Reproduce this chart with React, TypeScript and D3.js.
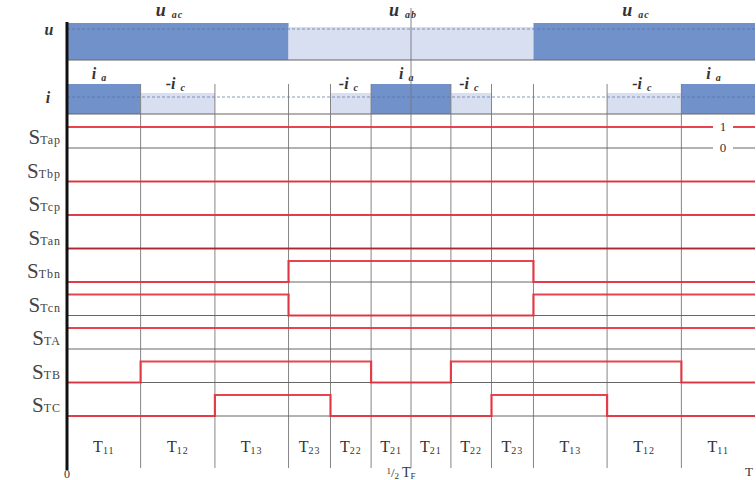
import React from "react";
import * as d3 from "d3";

// interval boundaries, as a fraction of the period T
const boundaries = [0, 0.107, 0.215, 0.322, 0.383, 0.442, 0.5, 0.558, 0.617, 0.678, 0.785, 0.893, 1];
const intervalNames = ["11", "12", "13", "23", "22", "21", "21", "22", "23", "13", "12", "11"];

// voltage panel: [start, end, subscript, shade]
const uSegments: [number, number, string, string][] = [
  [0, 0.322, "ac", "dark"],
  [0.322, 0.678, "ab", "light"],
  [0.678, 1, "ac", "dark"],
];

// current panel
const iSegments: [number, number, string, string][] = [
  [0, 0.107, "a", "dark"],
  [0.107, 0.215, "-c", "light"],
  [0.383, 0.442, "-c", "light"],
  [0.442, 0.558, "a", "dark"],
  [0.558, 0.617, "-c", "light"],
  [0.785, 0.893, "-c", "light"],
  [0.893, 1, "a", "dark"],
];

// switching states per interval
const rowNames = ["Tap", "Tbp", "Tcp", "Tan", "Tbn", "Tcn", "TA", "TB", "TC"];
const states = [
  [1, 1, 1, 1, 1, 1, 1, 1, 1, 1, 1, 1],
  [0, 0, 0, 0, 0, 0, 0, 0, 0, 0, 0, 0],
  [0, 0, 0, 0, 0, 0, 0, 0, 0, 0, 0, 0],
  [0, 0, 0, 0, 0, 0, 0, 0, 0, 0, 0, 0],
  [0, 0, 0, 1, 1, 1, 1, 1, 1, 0, 0, 0],
  [1, 1, 1, 0, 0, 0, 0, 0, 0, 1, 1, 1],
  [1, 1, 1, 1, 1, 1, 1, 1, 1, 1, 1, 1],
  [0, 1, 1, 1, 1, 0, 0, 1, 1, 1, 1, 0],
  [0, 0, 1, 1, 0, 0, 0, 0, 1, 1, 0, 0],
];

const W = 756;
const H = 480;
const x = d3.scaleLinear().domain([0, 1]).range([67, 755]);
const rowBase = d3.scaleLinear().domain([0, 8]).range([148, 416]);
const HIGH = 21;

const DARK = "#7191cb";
const LIGHT = "#d8dff1";
const RED = "#e4303c";
const serif = "'Liberation Serif', 'DejaVu Serif', serif";

const App = () => {
  const line = d3
    .line<[number, number]>()
    .x((d) => x(d[0]))
    .y((d) => d[1])
    .curve(d3.curveStepAfter);

  return (
    <svg width={W} height={H} style={{ position: "absolute", left: 0, top: 0, background: "#fff" }} fontFamily={serif}>
      {/* u panel */}
      {uSegments.map(([a, b, sub, shade], i) => (
        <g key={"u" + i}>
          <rect
            x={x(a)}
            y={shade === "dark" ? 23 : 27}
            width={x(b) - x(a)}
            height={shade === "dark" ? 37 : 33}
            fill={shade === "dark" ? DARK : LIGHT}
          />
          <text x={x((a + b) / 2) - 22} y={16} fontSize={18} fontStyle="italic" fontWeight="bold" fill="#333">
            u
            <tspan fontSize={10} dx={6} dy={2} letterSpacing={1}>{sub}</tspan>
          </text>
        </g>
      ))}
      <line x1={x(0)} x2={x(1)} y1={29} y2={29} stroke="#56709e" strokeDasharray="3,2" strokeWidth={1} opacity={0.7} />
      <line x1={x(0)} x2={x(1)} y1={60} y2={60} stroke="#666" strokeWidth={1.2} />
      <text x={49} y={35} fontSize={16} fontStyle="italic" fontWeight="bold" textAnchor="middle" fill="#333">u</text>

      {/* i panel */}
      {iSegments.map(([a, b, sub, shade], i) => (
        <g key={"i" + i}>
          <rect
            x={x(a)}
            y={shade === "dark" ? 84 : 93}
            width={x(b) - x(a)}
            height={shade === "dark" ? 30 : 21}
            fill={shade === "dark" ? DARK : LIGHT}
          />
          <text
            x={x((a + b) / 2) - 12}
            y={shade === "dark" ? 79 : 89}
            fontSize={16}
            fontStyle="italic"
            fontWeight="bold"
            fill="#333"
          >
            {sub === "a" ? "i" : "-i"}
            <tspan fontSize={10} dx={5} dy={2}>{sub === "a" ? "a" : "c"}</tspan>
          </text>
        </g>
      ))}
      <line x1={x(0)} x2={x(1)} y1={97} y2={97} stroke="#56709e" strokeDasharray="3,2" strokeWidth={1} opacity={0.7} />
      <line x1={x(0)} x2={x(1)} y1={114} y2={114} stroke="#666" strokeWidth={1.2} />
      <text x={48} y={103} fontSize={16} fontStyle="italic" fontWeight="bold" textAnchor="middle" fill="#333">i</text>

      {/* vertical interval lines */}
      {boundaries.slice(1, -1).map((b, i) => (
        <line
          key={"v" + i}
          x1={x(b)}
          x2={x(b)}
          y1={b === 0.5 ? 8 : 84}
          y2={468}
          stroke="#777"
          strokeWidth={0.9}
        />
      ))}

      {/* switching rows */}
      {rowNames.map((name, r) => {
        const base = rowBase(r);
        const pts: [number, number][] = states[r].map((s, k) => [boundaries[k], base - s * HIGH]);
        pts.push([1, base - states[r][11] * HIGH]);
        return (
          <g key={name}>
            <line x1={x(0)} x2={x(1)} y1={base} y2={base} stroke="#666" strokeWidth={1} />
            <path
              d={line(pts) || ""}
              fill="none"
              stroke={name === "Tan" ? "#b3202e" : RED}
              strokeWidth={2.2}
              opacity={0.9}
            />
            <text x={61} y={base - 4} textAnchor="end" fill="#444" fontSize={21}>
              S<tspan fontSize={12} letterSpacing={1}>{name}</tspan>
            </text>
          </g>
        );
      })}

      {/* 1 / 0 level markers */}
      <rect x={713} y={120} width={20} height={34} fill="#fff" />
      <text x={723} y={131} fontSize={13} textAnchor="middle" fill="#333">1</text>
      <text x={723} y={152} fontSize={13} textAnchor="middle" fill="#333">0</text>

      {/* interval names */}
      {intervalNames.map((n, k) => (
        <text
          key={"t" + k}
          x={x((boundaries[k] + boundaries[k + 1]) / 2)}
          y={452}
          fontSize={16}
          textAnchor="middle"
          fill="#333"
        >
          T<tspan fontSize={10} dy={2} letterSpacing={1}>{n}</tspan>
        </text>
      ))}

      {/* time axis */}
      <line x1={x(0)} x2={x(0)} y1={22} y2={470} stroke="#111" strokeWidth={3} />
      <text x={x(0)} y={478} fontSize={12} textAnchor="middle" fill="#333">0</text>
      <text x={x(0.5) - 10} y={477} fontSize={13} textAnchor="middle" fill="#333">
        <tspan fontSize={9} dy={-3}>1</tspan>
        <tspan dy={3}>/</tspan>
        <tspan fontSize={9} dy={2}>2</tspan>
        <tspan fontSize={14} dx={3} dy={-2}>T</tspan>
        <tspan fontSize={9} dy={2}>F</tspan>
      </text>
      <text x={749} y={476} fontSize={13} textAnchor="middle" fill="#333">T</text>
    </svg>
  );
};

export default App;
